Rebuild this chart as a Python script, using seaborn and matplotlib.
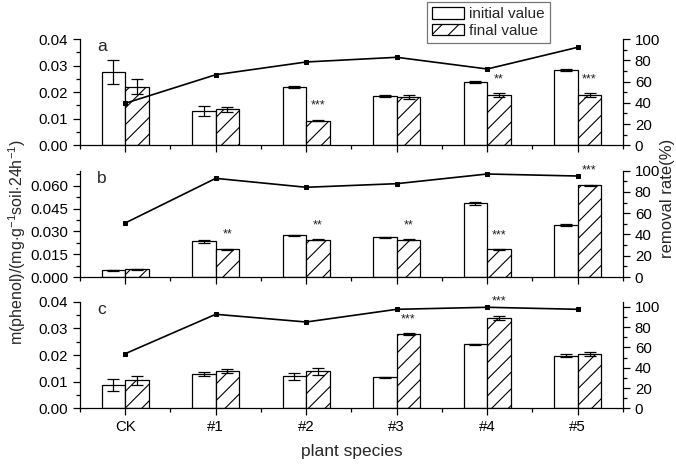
import numpy as np
import pandas as pd
import matplotlib
matplotlib.use("Agg")
import matplotlib.pyplot as plt
import seaborn as sns
from matplotlib.patches import Patch
from matplotlib.ticker import MultipleLocator

sns.set_theme(style="ticks")
plt.rcParams['font.family'] = ['Liberation Sans', 'DejaVu Sans']
plt.rcParams['hatch.linewidth'] = 0.8
plt.rcParams['mathtext.fontset'] = 'custom'
plt.rcParams['mathtext.rm'] = 'Liberation Sans'
plt.rcParams['mathtext.it'] = 'Liberation Sans:italic'

species = ["CK", "#1", "#2", "#3", "#4", "#5"]

# panel a
a_init = [0.0277, 0.0130, 0.0220, 0.0186, 0.0238, 0.0284]
a_init_err = [0.0045, 0.0018, 0.0005, 0.0004, 0.0003, 0.0004]
a_final = [0.0220, 0.0135, 0.0093, 0.0183, 0.0189, 0.0188]
a_final_err = [0.0028, 0.0008, 0.0003, 0.0008, 0.0008, 0.0008]
a_removal = [39.5, 66.4, 78.4, 82.8, 71.8, 92.2]
a_sig = ["", "", "***", "", "**", "***"]

# panel b
b_init = [0.0044, 0.0235, 0.0275, 0.0261, 0.0485, 0.0342]
b_init_err = [0.0003, 0.0008, 0.0003, 0.0003, 0.0010, 0.0004]
b_final = [0.0051, 0.0184, 0.0246, 0.0246, 0.0182, 0.0604]
b_final_err = [0.0003, 0.0003, 0.0003, 0.0003, 0.0003, 0.0004]
b_removal = [50.8, 92.8, 84.4, 87.8, 96.9, 95.0]
b_sig = ["", "**", "**", "**", "***", "***"]

# panel c
c_init = [0.0087, 0.0129, 0.0120, 0.0116, 0.0240, 0.0197]
c_init_err = [0.0023, 0.0006, 0.0012, 0.0002, 0.0001, 0.0005]
c_final = [0.0105, 0.0141, 0.0139, 0.0279, 0.0340, 0.0203]
c_final_err = [0.0018, 0.0007, 0.0014, 0.0003, 0.0008, 0.0008]
c_removal = [53.8, 92.6, 85.0, 97.5, 99.5, 97.5]
c_sig = ["", "", "", "***", "***", ""]

panels = [
    ("a", a_init, a_init_err, a_final, a_final_err, a_removal, a_sig, 0.04, 0.01, 0.005, 100, "{:.2f}"),
    ("b", b_init, b_init_err, b_final, b_final_err, b_removal, b_sig, 0.07, 0.015, 0.0075, 100, "{:.3f}"),
    ("c", c_init, c_init_err, c_final, c_final_err, c_removal, c_sig, 0.04, 0.01, 0.005, 105, "{:.2f}"),
]
bottoms = [0.6875, 0.4043, 0.1219]
tops = [0.9161, 0.6329, 0.3512]

fig = plt.figure(figsize=(6.76, 4.65), dpi=100)
left, right = 0.1183, 0.9216
fs = 10.8

for i, (lab, init, init_err, final, final_err, removal, sig, ymax, maj, mnr, rmax, fmt) in enumerate(panels):
    ax = fig.add_axes([left, bottoms[i], right - left, tops[i] - bottoms[i]])
    df = pd.DataFrame({
        "species": species * 2,
        "value": list(init) + list(final),
        "kind": ["initial value"] * 6 + ["final value"] * 6,
    })
    sns.barplot(data=df, x="species", y="value", hue="kind", ax=ax,
                palette={"initial value": "white", "final value": "white"},
                edgecolor="black", linewidth=0.9, width=0.52, gap=0,
                errorbar=None, legend=False, saturation=1)
    n = len(species)
    init_patches = ax.patches[:n]
    final_patches = ax.patches[n:]
    for p in final_patches:
        p.set_hatch("//")
    xi = [p.get_x() + p.get_width() / 2 for p in init_patches]
    xf = [p.get_x() + p.get_width() / 2 for p in final_patches]
    ax.errorbar(xi, init, yerr=init_err, fmt="none", ecolor="black", elinewidth=0.9, capsize=4, capthick=0.9)
    ax.errorbar(xf, final, yerr=final_err, fmt="none", ecolor="black", elinewidth=0.9, capsize=4, capthick=0.9)
    for k, s in enumerate(sig):
        if s:
            ax.annotate(s, (xf[k], final[k] + final_err[k]), xytext=(0, 10), textcoords="offset points",
                        ha="center", va="center", fontsize=9, color="#222222")
    ax.set_xlim(-0.5, n - 0.5)
    ax.set_ylim(0, ymax)
    ax.yaxis.set_major_locator(MultipleLocator(maj))
    ax.yaxis.set_minor_locator(MultipleLocator(mnr))
    ax.set_yticklabels([fmt.format(v) for v in ax.get_yticks()], fontsize=fs)
    ax.set_ylim(0, ymax)
    ax.xaxis.set_minor_locator(MultipleLocator(0.5))
    ax.tick_params(axis="both", which="major", direction="out", length=5, width=0.9, colors="black")
    ax.tick_params(axis="both", which="minor", direction="out", length=3, width=0.9, colors="black")
    ax.set_xlabel("")
    ax.set_ylabel("")
    if i < 2:
        ax.set_xticklabels([])
    else:
        ax.tick_params(axis="x", labelsize=fs)
    for sp in ["left", "bottom"]:
        ax.spines[sp].set_linewidth(0.9)
        ax.spines[sp].set_color("black")
    ax.spines["top"].set_visible(False)
    ax.spines["right"].set_visible(False)
    ax.text(0.031, 1.0, lab, transform=ax.transAxes, fontsize=12.5, va="top", ha="left")

    ax2 = ax.twinx()
    sns.lineplot(x=np.arange(n), y=removal, ax=ax2, color="black", linewidth=1.2,
                 marker="s", markersize=3.2, markeredgecolor="black")
    ax2.set_ylim(0, rmax)
    ax2.set_xlim(-0.5, n - 0.5)
    ax2.yaxis.set_major_locator(MultipleLocator(20))
    ax2.yaxis.set_minor_locator(MultipleLocator(10))
    ax2.set_ylim(0, rmax)
    ax2.tick_params(axis="y", which="major", direction="out", length=5, width=0.9, labelsize=fs, colors="black")
    ax2.tick_params(axis="y", which="minor", direction="out", length=3, width=0.9, colors="black")
    ax2.spines["top"].set_visible(False)
    ax2.spines["left"].set_visible(False)
    ax2.spines["bottom"].set_visible(False)
    ax2.spines["right"].set_linewidth(0.9)
    ax2.spines["right"].set_color("black")
    ax2.set_ylabel("")
    ax2.set_zorder(ax.get_zorder() + 1)
    ax2.patch.set_visible(False)

fig.text(0.52, 0.028, "plant species", ha="center", va="center", fontsize=12.5)
fig.text(0.026, 0.48, r"m(phenol)/(mg$\cdot$g$^{-1}$soil$\cdot$24h$^{-1}$)", rotation=90,
         ha="center", va="center", fontsize=11.5)
fig.text(0.988, 0.574, "removal rate(%)", rotation=90, ha="center", va="center", fontsize=12)

handles = [Patch(facecolor="white", edgecolor="black", linewidth=0.9, label="initial value"),
           Patch(facecolor="white", edgecolor="black", linewidth=0.9, hatch="//", label="final value")]
leg = fig.legend(handles=handles, loc="upper left", bbox_to_anchor=(427 / 676, 1 - 2 / 465),
                 fontsize=11, frameon=True, fancybox=False, edgecolor="#555555",
                 handlelength=2.1, handleheight=0.75, handletextpad=0.3, borderpad=0.35,
                 labelspacing=0.15, borderaxespad=0)
leg.get_frame().set_linewidth(0.9)

fig.savefig("out.png", dpi=100)
